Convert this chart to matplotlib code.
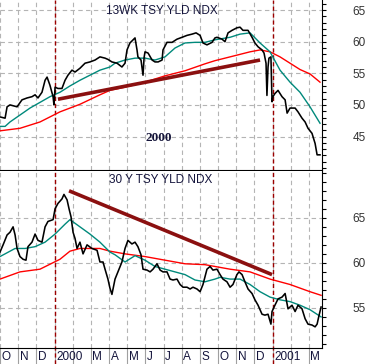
import matplotlib
matplotlib.use("Agg")
from matplotlib import pyplot as plt
from matplotlib.ticker import FixedLocator, MultipleLocator
from matplotlib.transforms import blended_transform_factory

# x values are months since 1 Oct 1999 (3 = Jan 2000, 15 = Jan 2001)
month_labels = ["O", "N", "D", "2000", "", "M", "A", "M", "J", "J", "A", "S",
                "O", "N", "D", "2001", "", "M"]
year_marks = [3, 15]

# --- 13 week treasury yield index ---
t13_x = [0.00, 0.28, 0.39, 0.55, 0.94, 1.21, 1.49, 1.76, 1.93, 2.09, 2.31, 2.48,
         2.59, 2.75, 2.92, 2.97, 3.03, 3.19, 3.41, 3.58, 3.74, 3.96, 4.13, 4.40,
         4.68, 4.95, 5.23, 5.50, 5.78, 5.94, 6.16, 6.44, 6.71, 6.88, 6.99, 7.15,
         7.43, 7.54, 7.59, 7.76, 7.87, 7.93, 7.98, 8.15, 8.37, 8.53, 8.70, 8.92,
         8.97, 9.19, 9.47, 9.74, 10.02, 10.29, 10.57, 10.79, 11.01, 11.17, 11.39,
         11.67, 11.83, 11.94, 12.22, 12.38, 12.55, 12.77, 13.04, 13.21, 13.37,
         13.65, 13.87, 14.03, 14.20, 14.42, 14.53, 14.64, 14.69, 14.75, 14.80,
         14.91, 14.97, 15.02, 15.13, 15.30, 15.52, 15.69, 15.80, 15.96, 16.24,
         16.40, 16.62, 16.79, 16.95, 17.17, 17.34, 17.45, 17.61]
t13_y = [48.1, 47.9, 49.7, 50.0, 49.7, 50.8, 51.1, 51.3, 51.6, 51.1, 52.0, 53.9,
         54.4, 53.1, 51.3, 50.0, 52.8, 52.6, 52.6, 53.9, 54.7, 55.5, 55.2, 55.8,
         56.6, 56.8, 57.1, 57.6, 57.4, 57.2, 56.8, 56.6, 56.0, 56.6, 58.7, 59.8,
         60.6, 58.7, 57.6, 57.1, 54.7, 57.5, 58.4, 58.2, 57.1, 56.8, 56.8, 57.1,
         58.7, 59.9, 59.9, 60.4, 60.7, 61.0, 61.2, 61.4, 61.0, 59.8, 59.5,
         59.9, 60.6, 60.7, 60.4, 60.0, 61.4, 61.8, 62.2, 62.3, 61.8,
         61.8, 60.7, 59.8, 59.2, 58.7, 58.2, 56.6, 51.5, 56.0, 57.4,
         57.6, 50.5, 51.3, 51.8, 52.3, 51.3, 50.8, 48.7, 49.5, 49.5,
         48.9, 47.9, 47.3, 46.3, 45.5, 43.9, 42.1, 42.1]

t13_ma50_x = [0.00, 0.28, 0.55, 1.10, 1.65, 2.20, 2.75, 3.30, 3.85, 4.40, 4.95,
              5.50, 6.05, 6.33, 6.88, 7.43, 7.98, 8.53, 9.08, 9.63, 10.18, 10.73,
              11.28, 11.83, 12.66, 13.21, 13.76, 14.31, 14.86, 15.41, 15.96,
              16.51, 17.06, 17.61]
t13_ma50_y = [46.6, 46.6, 47.3, 48.4, 49.5, 50.4, 51.3, 52.0, 53.0, 53.9, 54.7,
              55.5, 56.0, 56.6, 57.1, 57.4, 57.4, 57.1, 57.6, 59.0, 59.8, 59.9,
              59.9, 60.3, 60.7, 61.2, 61.4, 59.8, 58.4, 55.5, 53.6,
              52.0, 49.7, 47.1]

t13_ma200_x = [0.00, 1.10, 2.20, 3.30, 4.40, 5.50, 6.05, 6.88, 7.98, 9.08, 10.18,
               11.28, 11.83, 12.66, 13.76, 14.31, 14.86, 15.41, 15.96, 16.51,
               17.06, 17.61]
t13_ma200_y = [45.9, 46.3, 47.3, 48.9, 50.1, 51.6, 52.3, 52.8, 53.6, 54.6, 55.4,
               56.5, 57.0, 57.6, 58.4, 58.7, 58.4, 57.6, 56.6, 55.6,
               54.9, 53.6]

t13_trend_x = [3.19, 14.31]
t13_trend_y = [50.9, 57.1]

# --- 30 year treasury yield index ---
t30_x = [0.00, 0.17, 0.39, 0.55, 0.72, 0.83, 0.94, 1.10, 1.27, 1.43, 1.54, 1.76,
         1.93, 2.09, 2.31, 2.48, 2.64, 2.92, 3.03, 3.19, 3.41, 3.52, 3.69, 3.80,
         3.91, 4.02, 4.13, 4.24, 4.40, 4.57, 4.79, 5.06, 5.34, 5.50, 5.67, 5.78,
         5.94, 6.05, 6.16, 6.33, 6.49, 6.71, 6.88, 7.04, 7.26, 7.43, 7.59, 7.76,
         7.87, 8.09, 8.26, 8.42, 8.64, 8.81, 8.97, 9.19, 9.36, 9.52, 9.74, 9.91,
         10.07, 10.29, 10.46, 10.62, 10.84, 11.01, 11.17, 11.39, 11.56, 11.72,
         11.94, 12.11, 12.27, 12.49, 12.66, 12.82, 13.04, 13.15, 13.32, 13.48,
         13.65, 13.87, 14.03, 14.20, 14.42, 14.58, 14.75, 14.91, 14.97, 15.13,
         15.30, 15.52, 15.69, 15.85, 16.07, 16.24, 16.40, 16.62, 16.79, 16.95,
         17.17, 17.34, 17.45, 17.56, 17.67]
t30_y = [61.2, 62.0, 63.1, 63.4, 64.0, 63.1, 61.6, 60.7, 60.4, 60.3, 61.8, 62.3,
         63.2, 62.5, 62.3, 64.0, 64.6, 64.8, 66.0, 66.6, 67.1, 67.6, 67.0, 66.0,
         65.1, 63.4, 62.7, 61.6, 62.3, 61.0, 62.0, 61.6, 61.4, 60.1, 60.1, 59.3,
         58.2, 57.2, 56.5, 58.2, 59.0, 60.1, 61.6, 62.5, 62.1, 62.3, 61.8, 60.9,
         59.3, 59.2, 59.0, 59.3, 59.9, 59.2, 59.0, 59.0, 58.2, 58.1, 58.2, 57.6,
         57.3, 57.3, 57.1, 57.3, 57.1, 56.8, 57.6, 59.3, 59.6, 59.2,
         59.3, 58.7, 58.2, 57.9, 57.3, 57.6, 58.7, 59.0, 58.7, 57.9,
         57.1, 56.6, 55.9, 55.3, 54.3, 54.2, 54.3, 53.2, 54.6, 55.3,
         56.0, 56.2, 56.6, 54.9, 55.3, 54.6, 55.3, 54.9, 53.8, 53.2,
         53.1, 52.9, 53.2, 54.2, 55.1]

t30_ma50_x = [0.00, 0.83, 1.38, 1.93, 2.48, 3.03, 3.58, 3.85, 4.40, 4.95, 5.50,
              6.05, 6.33, 6.88, 7.43, 7.98, 8.53, 9.08, 9.63, 10.18, 10.73, 11.28,
              11.83, 12.11, 12.66, 13.21, 13.76, 14.31, 14.86, 15.41, 15.96,
              16.51, 17.06, 17.67]
t30_ma50_y = [60.7, 61.6, 61.6, 61.8, 62.3, 63.2, 64.3, 64.8, 64.0, 63.2, 62.3,
              61.2, 60.9, 60.1, 60.8, 60.3, 59.6, 59.3, 59.0, 58.7, 58.1, 57.9,
              58.2, 58.4, 58.2, 58.2, 57.6, 56.8, 56.2, 55.9, 55.7,
              55.3, 54.8, 54.0]

t30_ma200_x = [0.00, 1.10, 2.20, 3.30, 3.85, 4.40, 5.50, 6.05, 6.88, 7.98, 9.08,
               10.18, 11.28, 11.83, 12.66, 13.76, 14.86, 15.96, 17.06, 17.67]
t30_ma200_y = [58.2, 59.0, 59.3, 60.4, 61.3, 61.6, 61.6, 61.3, 61.0, 60.7, 60.3,
               59.9, 59.8, 59.6, 59.3, 59.0, 58.2, 57.6, 56.8, 56.4]

t30_trend_x = [3.80, 14.97]
t30_trend_y = [68.0, 58.7]

W, H = 371, 364
LABEL_FONT = "Liberation Sans"
TEXT_COLOR = "#14143c"


def style_panel(ax, ylim, yticks):
    ax.set_xlim(0, 17.72)
    ax.set_ylim(*ylim)
    ax.xaxis.set_major_locator(MultipleLocator(1))
    ax.yaxis.tick_right()
    ax.yaxis.set_major_locator(FixedLocator(yticks))
    ax.yaxis.set_minor_locator(MultipleLocator(1))
    ax.grid(True, which="major", color="#b4b4b4", linestyle=(0, (4, 3)), linewidth=0.8)
    ax.set_axisbelow(True)
    for side in ("left", "top"):
        ax.spines[side].set_visible(False)
    for side in ("right", "bottom"):
        ax.spines[side].set_linewidth(0.8)
    ax.tick_params(axis="y", which="both", direction="out", length=3, width=0.8,
                   pad=19, labelsize=8.5, labelcolor="#333333")
    for lbl in ax.get_yticklabels():
        lbl.set_fontfamily(LABEL_FONT)


def year_lines(ax, ymin=0):
    for m in year_marks:
        ax.axvline(m, ymin=ymin, color="#9b0000", linestyle=(0, (3, 2)), linewidth=1,
                   zorder=1.5, clip_on=False)


def draw_series(ax, px, py, m50x, m50y, m200x, m200y, tx, ty):
    ax.plot(m200x, m200y, color="#ff0000", linewidth=1, zorder=2)
    ax.plot(m50x, m50y, color="#00897b", linewidth=1, zorder=3)
    ax.plot(px, py, color="black", linewidth=1.15, zorder=4)
    ax.plot(tx, ty, color="#8b1010", linewidth=2.6, solid_capstyle="butt", zorder=5)


def main():
    fig = plt.figure(figsize=(W / 100, H / 100), dpi=100)
    ax_top = fig.add_axes([0, 1 - 170 / H, 322 / W, 170 / H])
    ax_bot = fig.add_axes([0, 16 / H, 322 / W, 177 / H])

    style_panel(ax_top, (39.7, 66.6), [45, 50, 55, 60, 65])
    year_lines(ax_top)
    draw_series(ax_top, t13_x, t13_y, t13_ma50_x, t13_ma50_y,
                t13_ma200_x, t13_ma200_y, t13_trend_x, t13_trend_y)
    ax_top.tick_params(axis="x", length=0, labelbottom=False)
    ax_top.text(162 / 322, 0.935, "13WK TSY YLD NDX", transform=ax_top.transAxes,
                ha="center", va="center", fontsize=8.5, family=LABEL_FONT, color=TEXT_COLOR)
    ax_top.text(158.5 / 322, 0.19, "2000", transform=ax_top.transAxes, ha="center",
                va="center", fontsize=9.5, fontweight="bold", family="Liberation Serif",
                color="#15153a")

    style_panel(ax_bot, (50.55, 70.2), [55, 60, 65])
    year_lines(ax_bot, ymin=-16 / 177)
    draw_series(ax_bot, t30_x, t30_y, t30_ma50_x, t30_ma50_y,
                t30_ma200_x, t30_ma200_y, t30_trend_x, t30_trend_y)
    ax_bot.tick_params(axis="x", length=12, width=0.8, color="#a0a0a0", labelbottom=False)
    ax_bot.text(161 / 322, 0.949, "30 Y TSY YLD NDX", transform=ax_bot.transAxes,
                ha="center", va="center", fontsize=8.5, family=LABEL_FONT, color=TEXT_COLOR)

    trans = blended_transform_factory(ax_bot.transData, ax_bot.transAxes)
    for i, lab in enumerate(month_labels):
        if lab:
            ax_bot.text(i + 0.08, -9 / 177, lab, transform=trans, ha="left", va="center",
                        fontsize=8.5, family=LABEL_FONT, color=TEXT_COLOR, clip_on=False)

    fig.savefig("out.png", dpi=100)


if __name__ == "__main__":
    main()
